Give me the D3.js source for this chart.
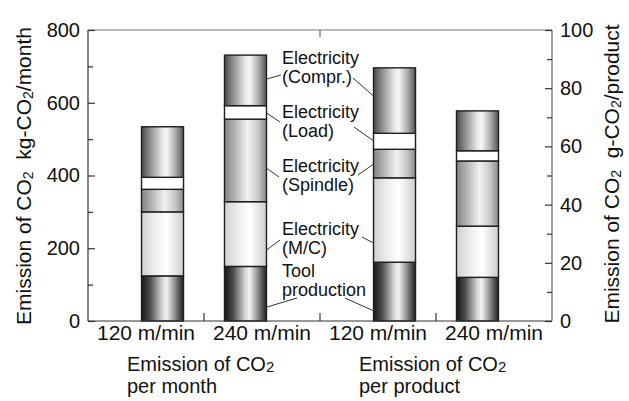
<!DOCTYPE html>
<html>
<head>
<meta charset="utf-8">
<script src="https://cdn.jsdelivr.net/npm/d3@7/dist/d3.min.js"></script>
<style>
  html, body { margin: 0; padding: 0; background: #fff; }
  svg { display: block; font-family: "Liberation Sans", Arial, Helvetica, sans-serif; }
</style>
</head>
<body>
<svg id="chart" width="629" height="401"></svg>
<script>
// ---------------- data ----------------
const barIds      = ["m120", "m240", "p120", "p240"];
const barLabels   = ["120 m/min", "240 m/min", "120 m/min", "240 m/min"];
const barGroups   = ["month", "month", "product", "product"];
const barSpeeds   = ["120", "240", "120", "240"];
const barAxis     = ["left", "left", "right", "right"];
const groupIds    = ["month", "product"];
const groupLabels = [["Emission of CO", "per month"], ["Emission of CO", "per product"]];

const segmentKeys = ["tool", "mc", "spindle", "load", "compr"];
// per month: kg-CO2/month ; per product: g-CO2/product
const toolProd    = [124, 150, 20.2, 15];
const elecMC      = [176, 178, 29, 17.6];
const elecSpindle = [62, 227, 9.8, 22.4];
const elecLoad    = [33, 37, 5.5, 3.5];
const elecCompr   = [139, 139, 22.5, 13.7];

const leftMajor  = [0, 200, 400, 600, 800];
const leftMinor  = [100, 300, 500, 700];
const rightMajor = [0, 20, 40, 60, 80, 100];
const rightMinor = [10, 30, 50, 70, 90];

// annotation labels with the value at which their leaders meet the bars
const annoLines   = [["Electricity", "(Compr.)"], ["Electricity", "(Load)"], ["Electricity", "(Spindle)"], ["Electricity", "(M/C)"], ["Tool", "production"]];
const leaderLeft  = [665, 572, 420, 195, 38];     // on bar "m240" (kg scale)
const leaderRight = [77.3, 61.9, 53.9, 26.8, 3.5]; // on bar "p120" (g scale)

// ---------------- layout ----------------
const svg = d3.select("#chart");
const X0 = 88, X1 = 552, Y0 = 321, Y1 = 30;

const yL = d3.scaleLinear().domain([0, 800]).range([Y0, Y1]);
const yR = d3.scaleLinear().domain([0, 100]).range([Y0, Y1]);
const yFor = i => barAxis[i] === "left" ? yL : yR;

const xCat = d3.scaleBand().domain(barIds).range([X0, X1]);
const xGroup = d3.scaleBand().domain(groupIds).range([X0, X1]);
const xInner = d3.scaleBand().domain(["120", "240"]).range([0, xGroup.bandwidth()])
  .paddingInner(0.494).paddingOuter(0.645);
const barX = i => xGroup(barGroups[i]) + xInner(barSpeeds[i]);
const bw = xInner.bandwidth();

// ---------------- gradients ----------------
const defs = svg.append("defs");
const grads = {
  tool:    [[0, "#151515"], [0.2, "#4a4a4a"], [0.5, "#d8d8d8"], [0.6, "#f2f2f2"], [0.8, "#8a8a8a"], [1, "#202020"]],
  compr:   [[0, "#4a4a4a"], [0.2, "#8c8c8c"], [0.5, "#e8e8e8"], [0.6, "#f7f7f7"], [0.8, "#b0b0b0"], [1, "#555"]],
  spindle: [[0, "#858585"], [0.25, "#b5b5b5"], [0.55, "#f2f2f2"], [0.8, "#c8c8c8"], [1, "#8a8a8a"]],
  mc:      [[0, "#cfcfcf"], [0.3, "#ececec"], [0.6, "#ffffff"], [1, "#cccccc"]],
  load:    [[0, "#ffffff"], [1, "#ffffff"]]
};
Object.entries(grads).forEach(([k, stops]) => {
  const g = defs.append("linearGradient").attr("id", "g-" + k)
    .attr("x1", "0%").attr("x2", "100%").attr("y1", "0%").attr("y2", "0%");
  stops.forEach(([o, c]) => g.append("stop").attr("offset", o).attr("stop-color", c));
});

// ---------------- bars ----------------
const rows = barIds.map((id, i) => ({
  id, tool: toolProd[i], mc: elecMC[i], spindle: elecSpindle[i], load: elecLoad[i], compr: elecCompr[i]
}));
const stacked = d3.stack().keys(segmentKeys)(rows);

const gBars = svg.append("g");
stacked.forEach(layer => {
  gBars.selectAll(null).data(layer).enter().append("rect")
    .attr("x", (d, i) => barX(i))
    .attr("width", bw)
    .attr("y", (d, i) => yFor(i)(d[1]))
    .attr("height", (d, i) => yFor(i)(d[0]) - yFor(i)(d[1]))
    .attr("fill", "url(#g-" + layer.key + ")")
    .attr("stroke", "#1e1e1e")
    .attr("stroke-width", 1.4);
});

// ---------------- axes / frame ----------------
const axisCol = "#333";
const frame = svg.append("g").attr("fill", "none").attr("stroke", axisCol).attr("stroke-width", 1.2);
frame.append("line").attr("x1", X0).attr("x2", X1).attr("y1", Y1).attr("y2", Y1).attr("stroke", "#777");
frame.append("line").attr("x1", X0).attr("x2", X1).attr("y1", Y0).attr("y2", Y0);
frame.append("line").attr("x1", X0).attr("x2", X0).attr("y1", Y0).attr("y2", Y1);
frame.append("line").attr("x1", X1).attr("x2", X1).attr("y1", Y0).attr("y2", Y1).attr("stroke", "#666");

function styleAxis(g) {
  g.select(".domain").remove();
  g.selectAll(".tick line").attr("stroke", axisCol).attr("stroke-width", 1.2);
  g.selectAll("text").attr("font-size", 20).attr("fill", "#111")
    .attr("font-family", '"Liberation Sans", Arial, Helvetica, sans-serif');
}

svg.append("g").attr("transform", `translate(${X0},0)`)
  .call(d3.axisLeft(yL).tickValues(leftMajor).tickSize(-7).tickPadding(8).tickFormat(d3.format("d")))
  .call(styleAxis);
svg.append("g").attr("transform", `translate(${X0},0)`)
  .call(d3.axisLeft(yL).tickValues(leftMinor).tickSize(-5).tickFormat(""))
  .call(styleAxis);
svg.append("g").attr("transform", `translate(${X1},0)`)
  .call(d3.axisRight(yR).tickValues(rightMajor).tickSize(-7).tickPadding(8).tickFormat(d3.format("d")))
  .call(styleAxis);
svg.append("g").attr("transform", `translate(${X1},0)`)
  .call(d3.axisRight(yR).tickValues(rightMinor).tickSize(-5).tickFormat(""))
  .call(styleAxis);

// category boundary ticks
const bounds = barIds.slice(1).map(id => xCat(id));
svg.append("g").selectAll("line").data(bounds).enter().append("line")
  .attr("x1", d => d).attr("x2", d => d).attr("y1", Y0).attr("y2", Y0 - 8)
  .attr("stroke", axisCol).attr("stroke-width", 1.2);
svg.append("line").attr("x1", xGroup("product")).attr("x2", xGroup("product"))
  .attr("y1", Y1).attr("y2", Y1 + 7).attr("stroke", "#666").attr("stroke-width", 1.2);

// category labels
svg.append("g").selectAll("text").data(barIds).enter().append("text")
  .attr("x", d => xCat(d) + xCat.bandwidth() / 2)
  .attr("y", 340)
  .attr("text-anchor", "middle")
  .attr("font-size", 21)
  .attr("fill", "#111")
  .text((d, i) => barLabels[i]);

// group labels (one text element, two lines)
groupIds.forEach((g, gi) => {
  const gx = xGroup(g) + 39;
  const t = svg.append("text").attr("font-size", 20).attr("fill", "#111")
    .attr("x", gx).attr("y", 370.5);
  t.append("tspan").text(groupLabels[gi][0]);
  t.append("tspan").attr("font-size", 15).attr("dy", 1).text("2");
  t.append("tspan").attr("x", gx).attr("dy", 21.5).text(groupLabels[gi][1]);
});

// axis titles
function axisTitle(x, y, unitPrefix, unitSuffix) {
  const t = svg.append("text").attr("font-size", 21).attr("fill", "#111")
    .attr("text-anchor", "middle")
    .attr("transform", `translate(${x},${y}) rotate(-90)`);
  t.append("tspan").text("Emission of CO");
  t.append("tspan").attr("font-size", 14).attr("dy", 2).text("2");
  t.append("tspan").attr("dy", -2).text("\u00a0\u00a0" + unitPrefix + "-CO");
  t.append("tspan").attr("font-size", 14).attr("dy", 2).text("2");
  t.append("tspan").attr("dy", -2).text(unitSuffix);
}
axisTitle(31, 176, "kg", "/month");
axisTitle(619, 174, "g", "/product");

// ---------------- annotations ----------------
const annoX = 282;
const annoBase = [64, 118, 172, 235, 277];
const annoLeftPt  = [[281, 75], [280, 122], [279, 177], [280, 240], [297, 298]];
const annoRightPt = [[353, 78], [354, 127], [358, 175], [362, 237], [345, 298]];
const gA = svg.append("g");
annoLines.forEach((lines, k) => {
  const t = gA.append("text").attr("x", annoX).attr("y", annoBase[k])
    .attr("font-size", 18).attr("fill", "#111");
  lines.forEach((s, j) => {
    t.append("tspan").attr("x", annoX).attr("dy", j === 0 ? 0 : 19).text(s);
  });
  const lb = barIds.indexOf("m240"), rb = barIds.indexOf("p120");
  gA.append("line")
    .attr("x1", barX(lb) + bw).attr("y1", yFor(lb)(leaderLeft[k]))
    .attr("x2", annoLeftPt[k][0]).attr("y2", annoLeftPt[k][1])
    .attr("stroke", "#333").attr("stroke-width", 1);
  gA.append("line")
    .attr("x1", annoRightPt[k][0]).attr("y1", annoRightPt[k][1])
    .attr("x2", barX(rb)).attr("y2", yFor(rb)(leaderRight[k]))
    .attr("stroke", "#333").attr("stroke-width", 1);
});
</script>
</body>
</html>
